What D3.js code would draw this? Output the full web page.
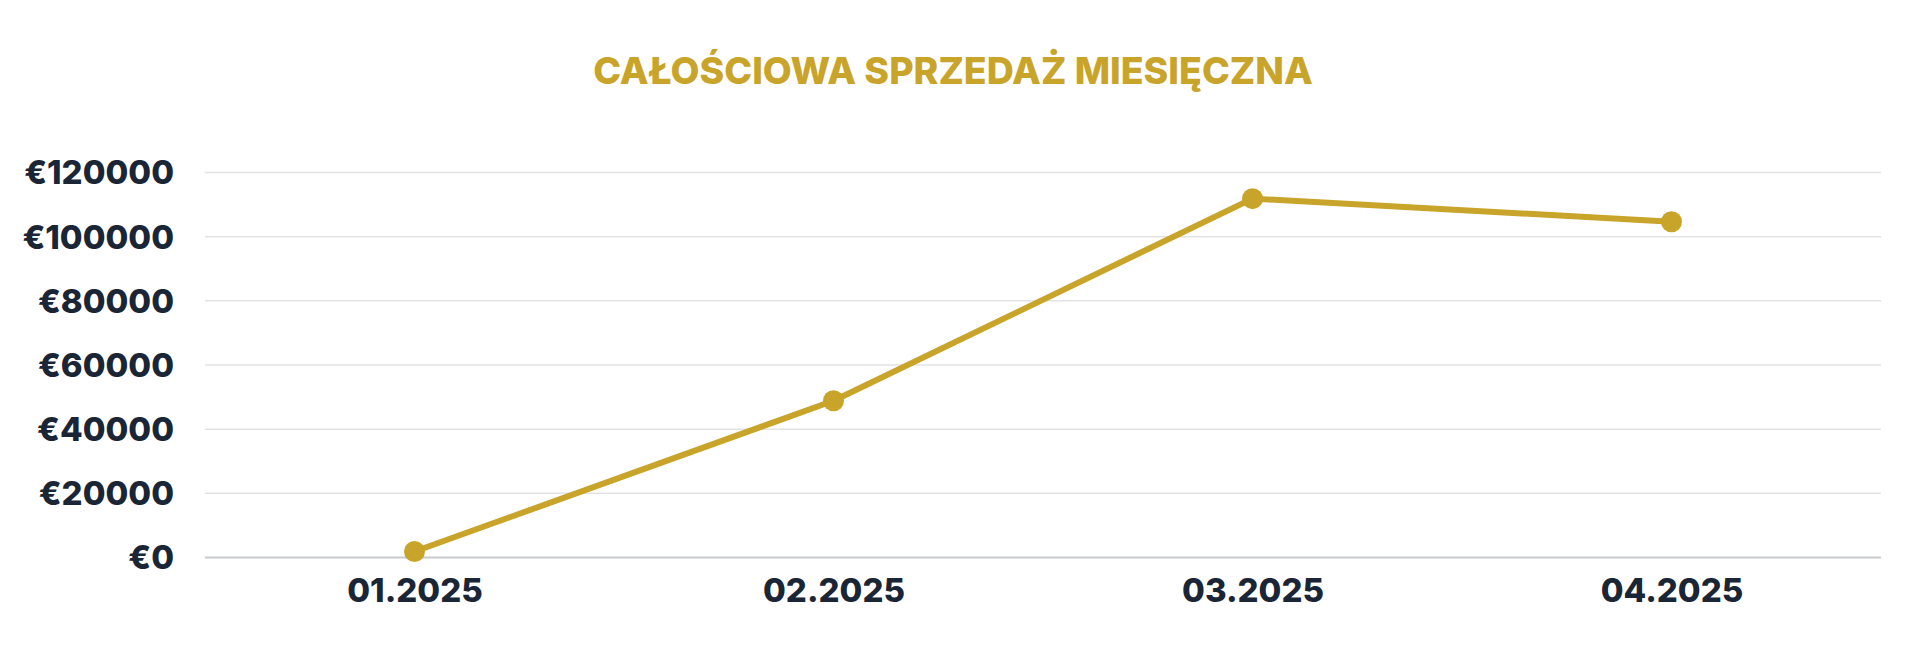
<!DOCTYPE html>
<html>
<head>
<meta charset="utf-8">
<script src="https://cdn.jsdelivr.net/npm/d3@7.9.0/dist/d3.min.js"></script>
<style>
  html, body { margin: 0; padding: 0; background: #fff; }
  svg { display: block; }
  .tick text { font-family: Inter, "Noto Sans", sans-serif; font-weight: 800; fill: #1a2535; }
</style>
</head>
<body>
<div id="chart"></div>
<script>
const months = ['01.2025', '02.2025', '03.2025', '04.2025'];
const sales = [1700, 48700, 111700, 104500];
const yTicks = [0, 20000, 40000, 60000, 80000, 100000, 120000];

const width = 1913;
const height = 667;
const margin = { top: 172, right: 32, bottom: 110, left: 205 };

const gold = '#c9a42a';

const svg = d3.select('#chart')
  .append('svg')
  .attr('width', width)
  .attr('height', height);

const xScale = d3.scalePoint()
  .domain(months)
  .range([margin.left, width - margin.right])
  .padding(0.5);

const yScale = d3.scaleLinear()
  .domain([0, 120000])
  .range([height - margin.bottom, margin.top]);

// title
svg.append('text')
  .attr('x', 953)
  .attr('y', 84)
  .attr('text-anchor', 'middle')
  .attr('fill', gold)
  .style('font-family', 'Inter, "Noto Sans", sans-serif')
  .style('font-weight', 800)
  .style('font-size', '37.5px')
  .text('CAŁOŚCIOWA SPRZEDAŻ MIESIĘCZNA');

// gridlines
const grid = svg.append('g')
  .attr('transform', `translate(${margin.left}, 0)`)
  .call(d3.axisLeft(yScale)
    .tickValues(yTicks)
    .tickSize(-(width - margin.left - margin.right))
    .tickFormat(''));
grid.select('.domain').remove();
grid.selectAll('.tick line')
  .attr('stroke', d => d === 0 ? '#c8cacd' : '#e3e3e3')
  .attr('stroke-width', d => d === 0 ? 2 : 1.5);

// y axis labels
const yAxis = svg.append('g')
  .attr('transform', `translate(${margin.left - 31}, 0)`)
  .call(d3.axisLeft(yScale)
    .tickValues(yTicks)
    .tickSize(0)
    .tickFormat(d => '€' + d));
yAxis.select('.domain').remove();
yAxis.selectAll('.tick text')
  .attr('x', 0)
  .attr('dy', '0.36em')
  .style('font-size', '33px');

// x axis labels
const xAxis = svg.append('g')
  .attr('transform', `translate(0, ${height - margin.bottom})`)
  .call(d3.axisBottom(xScale).tickSize(0));
xAxis.select('.domain').remove();
xAxis.selectAll('.tick text')
  .attr('y', 45)
  .attr('dy', 0)
  .style('font-size', '33px');

// line
const line = d3.line()
  .x((d, i) => xScale(months[i]))
  .y(d => yScale(d));

svg.append('path')
  .datum(sales)
  .attr('fill', 'none')
  .attr('stroke', gold)
  .attr('stroke-width', 6)
  .attr('stroke-linejoin', 'round')
  .attr('d', line);

svg.append('g')
  .selectAll('circle')
  .data(sales)
  .join('circle')
  .attr('cx', (d, i) => xScale(months[i]))
  .attr('cy', d => yScale(d))
  .attr('r', 10.5)
  .attr('fill', gold);
</script>
</body>
</html>
